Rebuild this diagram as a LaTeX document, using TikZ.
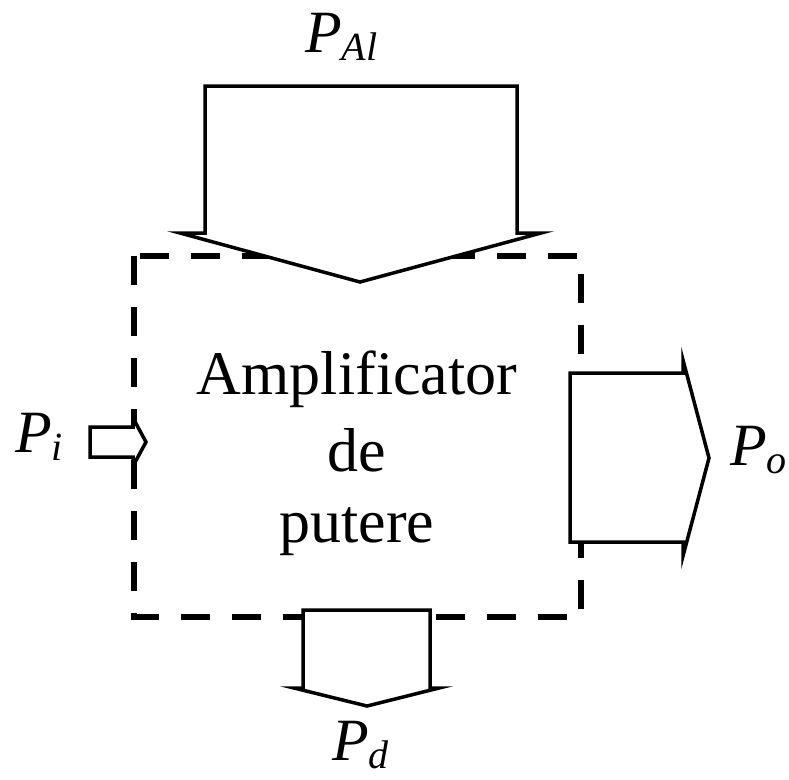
\documentclass[tikz,border=0pt]{standalone}
\usepackage{fontspec}
\setmainfont{Liberation Serif}
\newcommand{\plab}[1]{{\fontsize{60}{60}\selectfont\itshape P}\raisebox{-8pt}{\fontsize{40}{40}\selectfont\itshape #1}}
\begin{document}
\begin{tikzpicture}[x=1pt,y=-1pt,
  flowarrow/.style={draw=black, fill=white, line width=3.5pt, line join=miter, miter limit=12},
  boundary/.style={draw=black, line width=5.5pt, dash pattern=on 29pt off 22pt},
  lbl/.style={anchor=base west, inner sep=0pt},
  maintext/.style={anchor=base, inner sep=0pt, font=\fontsize{62}{62}\selectfont}]
\useasboundingbox[fill=white] (0,0) rectangle (789,779);
% dashed system boundary
\draw[boundary] (134,256) rectangle (581,617);
% supply power (top)
\draw[flowarrow] (205,86) -- (517,86) -- (517,233) -- (541,233) -- (360,282) -- (180,233) -- (205,233) -- cycle;
% input power (left)
\draw[flowarrow] (90,427) -- (133,427) -- (133,418) -- (146,442) -- (133,466) -- (133,457) -- (90,457) -- cycle;
% output power (right)
\draw[flowarrow] (570,373) -- (683,373) -- (683,360) -- (709,458) -- (683,556) -- (683,542) -- (570,542) -- cycle;
% dissipated power (bottom)
\draw[flowarrow] (303,610) -- (430,610) -- (430,688) -- (439,688) -- (367,706) -- (294,688) -- (303,688) -- cycle;
% labels
\node[lbl] (pal) at (305,52) {\plab{Al}};
\node[lbl] (pi) at (15,452) {\plab{i}};
\node[lbl] (po) at (730,465) {\plab{o}};
\node[lbl] (pd) at (332,760) {\plab{d}};
\node[maintext] (amp1) at (357,394) {Amplificator};
\node[maintext] (amp2) at (357,471) {de};
\node[maintext] (amp3) at (357,542) {putere};
\end{tikzpicture}
\end{document}
